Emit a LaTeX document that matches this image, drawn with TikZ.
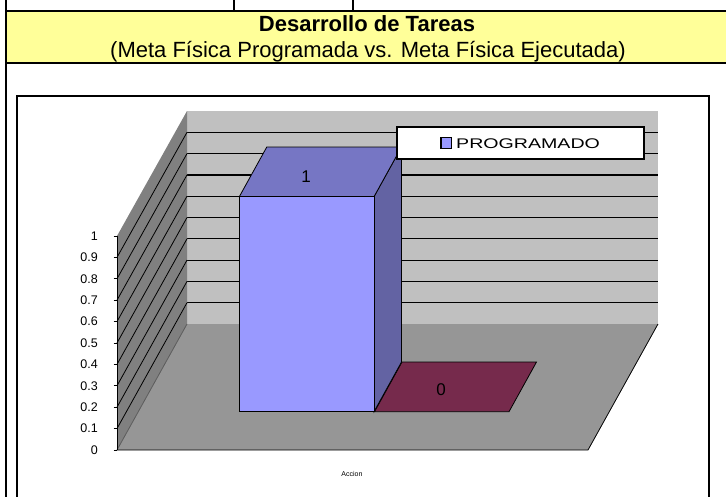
\documentclass[tikz,border=0pt]{standalone}
\usepackage{fontspec}
\setmainfont{Liberation Sans}
\definecolor{titleyellow}{HTML}{FFFF99}
\definecolor{wallgray}{HTML}{C0C0C0}
\definecolor{sidegray}{HTML}{808080}
\definecolor{floorgray}{HTML}{969696}
\definecolor{barfront}{HTML}{9999FF}
\definecolor{bartop}{HTML}{7676C4}
\definecolor{barside}{HTML}{6363A3}
\definecolor{barzero}{HTML}{762A4C}
\tikzset{
  tableline/.style={line width=2pt, black},
  frameline/.style={line width=1.5pt, black},
  gridline/.style={line width=1.2pt, black},
  edgeline/.style={line width=0.8pt, black},
  ticklabel/.style={anchor=east, font=\fontsize{12.5}{12.5}\selectfont, inner sep=0pt},
  barlabel/.style={font=\fontsize{17}{17}\selectfont, inner sep=0pt}
}
\begin{document}
\begin{tikzpicture}[x=1pt,y=-1pt]
\useasboundingbox (0,0) rectangle (726,496);
% table
\fill[titleyellow] (6,11) rectangle (730,63);
\draw[tableline] (6,-5) -- (6,500);
\draw[tableline] (6,11) -- (730,11);
\draw[tableline] (6,63) -- (730,63);
\draw[tableline] (234,-5) -- (234,11);
\draw[tableline] (352.7,-5) -- (352.7,11);
\node[anchor=base, font=\fontsize{22}{24}\selectfont\bfseries, inner sep=0pt] (title) at (367,31.7) {Desarrollo de Tareas};
\node[anchor=base, font=\fontsize{22}{24}\selectfont, inner sep=0pt] (subtitle) at (368,57) {(Meta Física Programada vs. Meta Física Ejecutada)};
% chart frame
\draw[frameline] (17,500) -- (17,96) -- (709,96) -- (709,500);
% back wall
\fill[wallgray] (187,111) rectangle (658,324);
\foreach \v in {1,...,9}{
  \draw[gridline] (187,324-21.3*\v) -- (658,324-21.3*\v);
}
\draw[line width=1pt, sidegray] (187,324) -- (658,324);
% side wall
\fill[sidegray] (117,450) -- (117,236) -- (187,111) -- (187,324) -- cycle;
\foreach \v in {1,...,9}{
  \draw[edgeline] (117,450-21.4*\v) -- (187,324-21.3*\v);
}
% floor
\fill[floorgray] (117,450) -- (187,324) -- (658,324) -- (588,450) -- cycle;
\draw[line width=0.8pt, sidegray!70!black] (117,450) -- (187,324);
\draw[edgeline] (117,450) -- (588,450) -- (658,324);
% ticks and labels
\draw[edgeline] (117,236) -- (117,450);
\foreach \v/\t in {0/0,1/0.1,2/0.2,3/0.3,4/0.4,5/0.5,6/0.6,7/0.7,8/0.8,9/0.9,10/1}{
  \draw[edgeline] (113.5,450-21.4*\v) -- (117,450-21.4*\v);
  \node[ticklabel] (tick\v) at (98,450-21.4*\v) {\t};
}
% zero bar
\fill[barzero, draw=black, line width=0.8pt] (374.5,411.7) -- (509,411.7) -- (536.5,362) -- (402,362) -- cycle;
\node[barlabel] (zerolabel) at (441,390) {0};
% bar PROGRAMADO
\fill[barside, draw=black, line width=0.8pt] (374,196.7) -- (401.5,147) -- (401.5,362) -- (374,411.7) -- cycle;
\fill[bartop, draw=black, line width=0.8pt] (239.3,196.7) -- (266.8,147) -- (401.5,147) -- (374,196.7) -- cycle;
\fill[barfront, draw=black, line width=0.8pt] (239.3,196.7) rectangle (374,411.7);
\node[barlabel] (onelabel) at (306,176.7) {1};
% legend
\node[draw=black, line width=1.5pt, fill=white, minimum width=247pt, minimum height=32pt, inner sep=0pt] (legend) at (520.5,143) {};
\draw[line width=1.5pt, fill=barfront] (441,137.3) rectangle (451.7,148.3);
\node[anchor=base west, inner sep=0pt, font=\fontsize{14}{14}\selectfont] (legendtext) at (456,148.3) {\scalebox{1.40}[1]{PROGRAMADO}};
% axis title
\node[font=\fontsize{7}{7}\selectfont, inner sep=0pt] (axistitle) at (352,474) {Accion};
\end{tikzpicture}
\end{document}
